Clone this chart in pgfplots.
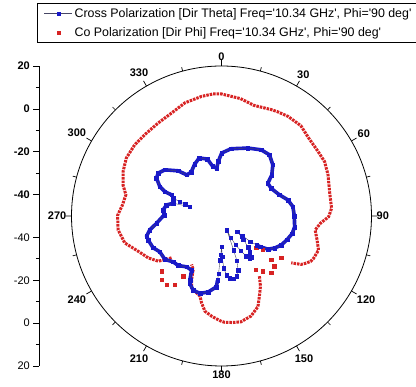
\documentclass[border=0pt]{standalone}
\usepackage{pgfplots}
\pgfplotsset{compat=1.18}
\usepackage{pgfplotstable}
\usepgfplotslibrary{polar}
\usepackage{fontspec}
\setmainfont{Liberation Sans}
\definecolor{cblue}{RGB}{25,25,200}
\definecolor{cred}{RGB}{215,35,35}
\definecolor{cline}{RGB}{70,70,100}
\pgfplotsset{
  legend image code/.code={\draw[mark repeat=2,mark phase=2,#1] plot coordinates {(0pt,0pt) (14pt,0pt) (28pt,0pt)};},
}

% Co polarization, main arc (compass angle, dB)
\pgfplotstableread{
th db
230.1 -19.6
231.7 -17.3
234.5 -13.7
240.3 -10.6
247.2 -7.7
254.5 -3.1
262.4 -1.3
270.3 -1.5
276.4 -3.5
282.5 -4.3
287.5 -1.8
294.3 0.4
301.3 2.0
309.4 2.4
316.6 2.2
325.7 2.5
334.1 3.4
342.1 5.5
350.6 6.6
356.1 7.1
359.8 7.0
9.2 5.5
16.5 3.8
25.0 4.8
27.9 5.2
33.7 5.9
41.3 6.1
48.0 4.6
56.2 4.2
62.2 4.4
68.9 3.3
77.3 1.7
86.0 1.5
90.4 0.0
94.2 -3.7
98.5 -5.8
104.1 -4.0
109.4 -2.0
114.7 -2.7
117.0 -3.3
119.5 -5.1
121.3 -6.5
123.9 -10.8
}\redA
% Co polarization, bottom arc
\pgfplotstableread{
th db
147.8 -16.8
151.0 -12.5
154.7 -8.6
158.1 -4.4
163.6 -1.3
169.6 0.2
174.0 0.0
178.5 -0.4
180.5 -1.0
185.6 -3.0
189.9 -4.9
192.9 -8.4
195.0 -11.2
199.5 -12.8
202.6 -13.7
205.2 -17.2
207.9 -21.8
211.7 -23.4
}\redB
% Co polarization, sparse points
\pgfplotstableread{
th db
125.0 -16.0
128.9 -25.2
131.2 -19.2
132.6 -28.0
133.6 -16.0
138.9 -14.7
143.2 -17.8
147.1 -20.3
212.5 -16.7
214.2 -11.3
218.7 -9.0
223.4 -9.2
227.4 -12.0
}\redC
% Cross polarization
\pgfplotstableread{
th db
183.5 -20.0
184.2 -16.8
189.9 -14.0
195.5 -12.5
200.9 -12.9
205.1 -15.2
206.2 -16.6
208.9 -21.1
214.5 -21.2
221.2 -19.3
226.5 -18.9
232.5 -16.7
239.9 -16.7
245.1 -14.8
251.8 -14.0
255.0 -13.8
259.0 -15.9
263.6 -19.5
271.0 -23.2
275.9 -22.6
281.3 -23.8
284.8 -26.7
}\blueA
\pgfplotstableread{
th db
284.8 -26.7
286.4 -34.6
287.8 -32.1
289.0 -29.4
290.2 -26.0
292.9 -24.7
}\blueDip
\pgfplotstableread{
th db
292.9 -24.7
293.3 -21.2
295.5 -18.1
300.2 -14.9
304.0 -14.3
309.2 -15.9
316.2 -20.8
319.7 -24.8
325.1 -25.2
332.5 -22.8
339.0 -21.0
346.0 -22.6
350.0 -26.5
354.3 -27.6
356.6 -24.5
0.2 -20.6
8.1 -18.3
21.2 -16.0
30.9 -14.0
38.1 -13.7
45.1 -16.2
50.8 -19.7
54.7 -23.5
60.8 -23.5
70.0 -21.2
76.4 -18.1
82.6 -16.4
90.0 -16.0
98.5 -15.5
104.0 -16.0
110.0 -17.5
116.0 -19.0
121.0 -21.0
125.5 -23.3
128.6 -27.0
129.5 -28.7
}\blueB
\pgfplotstableread{
th db
129.5 -28.7
131.5 -32.0
133.5 -36.5
134.8 -39.6
137.0 -35.0
139.5 -31.0
142.0 -28.5
144.5 -26.3
146.5 -26.0
148.5 -28.0
151.0 -31.5
154.0 -35.0
156.5 -39.0
159.0 -43.0
160.5 -33.0
161.0 -28.0
163.0 -23.5
166.0 -21.0
169.3 -20.3
172.5 -20.8
175.0 -22.3
177.5 -25.5
179.0 -31.0
179.8 -35.6
181.0 -32.0
181.9 -29.4
182.9 -23.1
183.5 -20.0
}\blueF

\begin{document}
\begin{tikzpicture}[x=1pt,y=1pt]
\useasboundingbox (0,0) rectangle (416,387);
\begin{polaraxis}[
  at={(221.5pt,171pt)}, anchor=center,
  scale only axis, width=300pt, height=300pt,
  ymin=0, ymax=70,
  xtick={0,30,...,330},
  xticklabels={90,60,30,0,330,300,270,240,210,180,150,120},
  minor xtick={15,45,...,345},
  ytick=\empty,
  xmajorgrids=false, ymajorgrids=false, xminorgrids=false, yminorgrids=false,
  tick align=inside,
  major tick length=6pt, minor tick length=4pt,
  tick style={black, line width=0.7pt},
  xticklabel style={font=\fontsize{11}{13}\selectfont\bfseries, inner sep=5pt},
  separate axis lines,
  axis line style={line width=0.8pt},
  y axis line style={draw=none},
  x filter/.expression={90-x},
  y filter/.expression={y+50},
  clip=false,
]
% Co polarization
\addplot[cred, line width=3pt, dash pattern=on 2.5pt off 1pt] table[x=th,y=db] {\redA};
\addplot[cred, line width=3pt, dash pattern=on 2.5pt off 1pt] table[x=th,y=db] {\redB};
\addplot[only marks, mark=square*, mark size=1.6pt, cred] table[x=th,y=db] {\redC};
% Cross polarization
\addplot[cblue, line width=3.6pt, line join=round] table[x=th,y=db] {\blueA};
\addplot[cblue, line width=3.6pt, line join=round] table[x=th,y=db] {\blueB};
\addplot[cline, line width=0.4pt, mark=square*, mark size=1.8pt, mark options={cblue, solid}] table[x=th,y=db] {\blueA};
\addplot[cline, line width=0.4pt, mark=square*, mark size=1.8pt, mark options={cblue, solid}] table[x=th,y=db] {\blueDip};
\addplot[cline, line width=0.4pt, mark=square*, mark size=1.8pt, mark options={cblue, solid}] table[x=th,y=db] {\blueB};
\addplot[cline, line width=0.4pt, mark=square*, mark size=1.8pt, mark options={cblue, solid}] table[x=th,y=db] {\blueF};
\end{polaraxis}
\begin{axis}[
  at={(39.3pt,171pt)}, anchor=west,
  scale only axis, width=10pt, height=300pt,
  xmin=0, xmax=1, ymin=-70, ymax=70,
  axis x line=none, axis y line*=left,
  axis line style={line width=0.8pt},
  ytick={-70,-50,-30,-10,10,30,50,70},
  yticklabels={20,0,-20,-40,\textbf{-40},\textbf{-20},\textbf{0},\textbf{20}},
  minor ytick={-60,-40,-20,20,40,60},
  tick align=outside,
  major tick length=6pt, minor tick length=3.5pt,
  tick style={black, line width=0.7pt},
  yticklabel style={font=\fontsize{11}{13}\selectfont},
  legend style={at={(axis description cs:-0.2,1.209)}, anchor=north west,
    draw=black, line width=0.6pt, font=\fontsize{12.4}{14}\selectfont,
    inner xsep=6.5pt, inner ysep=2.5pt, row sep=5pt},
  legend cell align=left,
]
\addlegendimage{cline, line width=0.5pt, mark=square*, mark size=1.5pt, mark options={cblue, solid}}
\addlegendentry{Cross Polarization [Dir Theta] Freq=\textquotesingle 10.34 GHz\textquotesingle, Phi=\textquotesingle 90 deg\textquotesingle}
\addlegendimage{only marks, mark=square*, mark size=1.5pt, cred}
\addlegendentry{Co Polarization [Dir Phi] Freq=\textquotesingle 10.34 GHz\textquotesingle, Phi=\textquotesingle 90 deg\textquotesingle}
\end{axis}
\end{tikzpicture}
\end{document}
